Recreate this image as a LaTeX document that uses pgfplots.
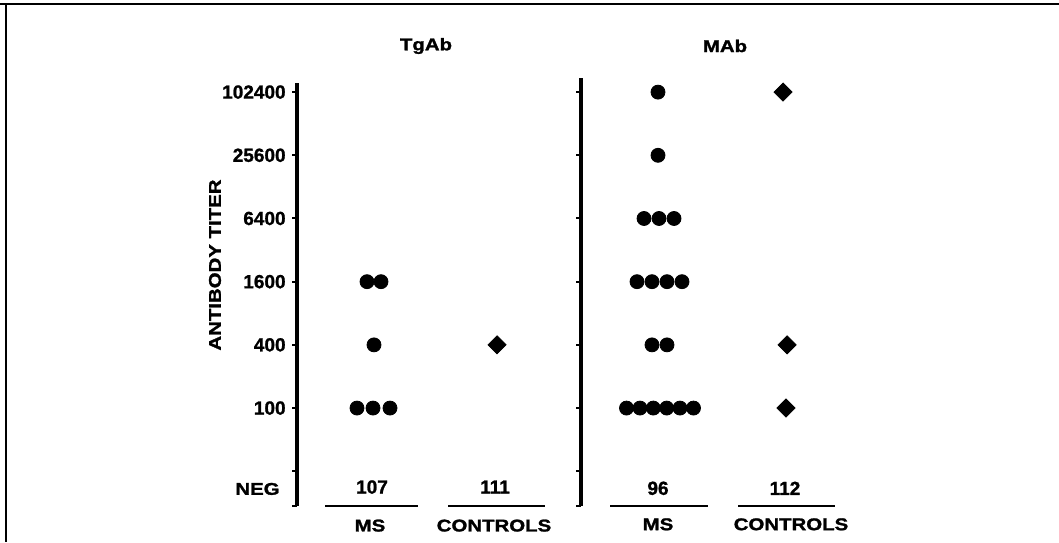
\documentclass[border=0pt]{standalone}
\usepackage{fontspec}
\setmainfont[BoldFeatures={FakeBold=1.2}]{Liberation Sans}
\newfontfamily\wide[FakeStretch=1.2, BoldFeatures={FakeBold=1.5}]{Liberation Sans}
\usepackage{pgfplots}
\pgfplotsset{compat=1.18}

\newcommand{\numf}{\fontsize{9.5}{10}\selectfont\bfseries}
\newcommand{\wordf}{\wide\fontsize{8.5}{9}\selectfont\bfseries}

% titer on a log-4 scale: 100 -> 0, 400 -> 1, ... 102400 -> 5; NEG below
\pgfplotsset{
  panel/.style={
    scale only axis, anchor=south west,
    axis x line=none, axis y line*=left,
    ymin=-1.55,
    ytick={-1.55,-1,0,1,2,3,4,5},
    tick align=outside, major tick length=2.5pt,
    every tick/.style={black, line width=1pt},
    axis line style={black, line width=1.6pt},
    tick label style={font=\numf},
    /pgf/number format/assume math mode=true,
    clip=false,
  },
  dots/.style={only marks, mark=*, mark size=3.5pt, black},
  diam/.style={only marks, mark=square*, mark size=3.2pt,
               mark options={rotate=45}, black},
  uline/.style={black, line width=1.2pt},
}

\begin{document}
\begin{tikzpicture}
\useasboundingbox (0,0) rectangle (529.5pt,-271pt);
% scanned frame
\draw[line width=1.2pt] (0,-2pt) -- (529.5pt,-2pt);
\draw[line width=1.2pt] (3pt,-2pt) -- (3pt,-271pt);

\node[rotate=90, font=\wordf] at (107.5pt,-132.5pt) {ANTIBODY TITER};

% TgAb
\begin{axis}[panel, at={(148.5pt,-253pt)}, width=142pt, height=211.7pt,
  xmin=297, xmax=581, ymax=5.15,
  yticklabels={,,100,400,1600,6400,25600,102400},
  yticklabel style={anchor=east, inner sep=0pt, xshift=-3pt},
  extra y ticks={-1.28}, extra y tick labels={\wordf NEG},
  extra y tick style={tick style={draw=none},
    yticklabel style={xshift=-3pt}}]
  \addplot[dots] coordinates {(367,2)(381,2)(374,1)(357,0)(373,0)(390,0)};
  \addplot[diam] coordinates {(497,1)};
  \addplot[uline] coordinates {(325,-1.55)(418,-1.55)};
  \addplot[uline] coordinates {(448,-1.55)(545,-1.55)};
  \node[font=\numf] at (axis cs:372,-1.25) {107};
  \node[font=\numf] at (axis cs:495,-1.25) {111};
  \node[font=\wordf] at (axis cs:370,-1.86) {MS};
  \node[font=\wordf] at (axis cs:494,-1.86) {CONTROLS};
  \node[font=\wordf] at (axis cs:426,5.73) {TgAb};
\end{axis}

% MAb
\begin{axis}[panel, at={(290.5pt,-253pt)}, width=209.5pt, height=213.9pt,
  xmin=581, xmax=1000, ymax=5.22,
  yticklabels={}]
  \addplot[dots] coordinates {(658,5)(658,4)
    (644,3)(659,3)(674,3)
    (637,2)(652,2)(667,2)(682,2)
    (652,1)(667,1)
    (626.5,0)(640,0)(653.3,0)(666.7,0)(680,0)(693.5,0)};
  \addplot[diam] coordinates {(783,5)(787,1)(786,0)};
  \addplot[uline] coordinates {(610,-1.55)(708,-1.55)};
  \addplot[uline] coordinates {(738,-1.55)(835,-1.55)};
  \node[font=\numf] at (axis cs:658,-1.27) {96};
  \node[font=\numf] at (axis cs:785,-1.27) {112};
  \node[font=\wordf] at (axis cs:658,-1.84) {MS};
  \node[font=\wordf] at (axis cs:791,-1.84) {CONTROLS};
  \node[font=\wordf] at (axis cs:725,5.73) {MAb};
\end{axis}
\end{tikzpicture}
\end{document}
